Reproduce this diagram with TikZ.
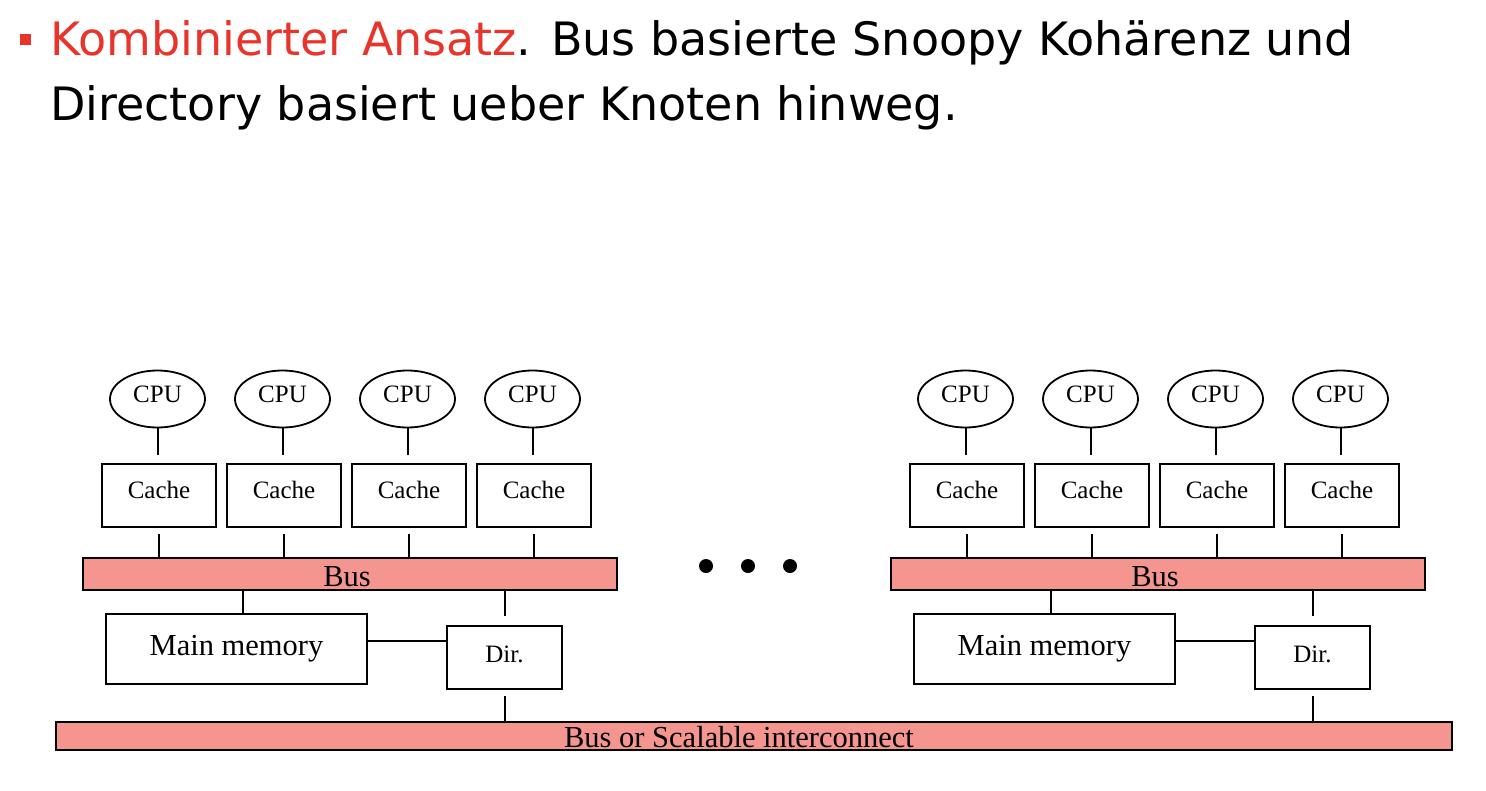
\documentclass[tikz,border=0pt]{standalone}
\usetikzlibrary{shapes.geometric}
\usepackage{fontspec}
\setmainfont{Liberation Serif}
\newfontfamily\titlefont{DejaVu Sans}
\definecolor{busfill}{HTML}{F4968F}
\definecolor{titlered}{HTML}{E8342B}
\begin{document}
\begin{tikzpicture}[x=1pt,y=-1pt,
  ln/.style={line width=2pt},
  cpubox/.style={ellipse,draw,line width=1.8pt,minimum width=95pt,minimum height=57pt,inner sep=0pt},
  cachebox/.style={rectangle,draw,line width=1.8pt,minimum width=114pt,minimum height=63pt,inner sep=0pt},
  membox/.style={rectangle,draw,line width=1.8pt,minimum width=261pt,minimum height=70pt,inner sep=0pt},
  dirbox/.style={rectangle,draw,line width=1.8pt,minimum width=115pt,minimum height=63pt,inner sep=0pt},
  busbox/.style={rectangle,draw,fill=busfill,line width=1.8pt,inner sep=0pt},
  smalltxt/.style={font=\fontsize{25}{28}\selectfont},
  bigtxt/.style={font=\fontsize{30.5}{33}\selectfont},
  titletxt/.style={font=\titlefont\fontsize{46}{52}\selectfont,anchor=base west,inner sep=0pt},
  dot/.style={circle,fill=black,minimum size=14pt,inner sep=0pt}
]
\useasboundingbox (0,0) rectangle (1486,790);
% title
\fill[titlered] (20,34) rectangle (31,45);
\node[titletxt] (t1) at (50,55) {\textcolor{titlered}{Kombinierter Ansatz}. Bus basierte Snoopy Kohärenz und};
\node[titletxt] (t2) at (50,120) {Directory basiert ueber Knoten hinweg.};

% groups
\foreach \g/\dx in {L/0,R/808}{
  \foreach \i in {1,2,3,4}{
    \node[cpubox,label={[smalltxt,yshift=5pt]center:CPU}] (cpu\g\i) at ({157.5+125*(\i-1)+\dx},399) {};
    \node[cachebox,label={[smalltxt,yshift=6pt]center:Cache}] (cache\g\i) at ({159+125*(\i-1)+\dx},495.5) {};
  }
  \node[busbox,minimum width=534pt,minimum height=32pt,label={[bigtxt,yshift=-3pt,xshift=-3pt]center:Bus}] (bus\g) at ({350+\dx},574) {};
  \node[membox,label={[bigtxt,yshift=0pt]center:Main memory}] (mem\g) at ({236.5+\dx},649) {};
  \node[dirbox,label={[smalltxt,yshift=3pt]center:Dir.}] (dir\g) at ({504.5+\dx},657.5) {};
  \coordinate (mtap\g) at ({243+\dx},590);
  \foreach \i in {1,2,3,4}{
    \draw[ln] (cpu\g\i.south) -- ([yshift=8pt]cpu\g\i.south |- cache\g\i.north);
    \draw[ln] ([yshift=-6pt]cache\g\i.south) -- (cache\g\i.south |- bus\g.north);
  }
  \draw[ln] (mtap\g) -- (mtap\g |- mem\g.north);
  \draw[ln] (bus\g.south -| dir\g.north) -- ([yshift=9pt]dir\g.north);
  \draw[ln] ([yshift=8pt]mem\g.east) -- ([yshift=8pt]mem\g.east -| dir\g.west);
}
\node[busbox,minimum width=1396pt,minimum height=28pt,label={[bigtxt,yshift=-1pt,xshift=-15pt]center:Bus or Scalable interconnect}] (ic) at (754,736) {};
\draw[ln] ([yshift=-6pt]dirL.south) -- (dirL.south |- ic.north);
\draw[ln] ([yshift=-6pt]dirR.south) -- (dirR.south |- ic.north);

\node[dot] (d1) at (706,566) {};
\node[dot] (d2) at (748,566) {};
\node[dot] (d3) at (790,566) {};
\end{tikzpicture}
\end{document}
